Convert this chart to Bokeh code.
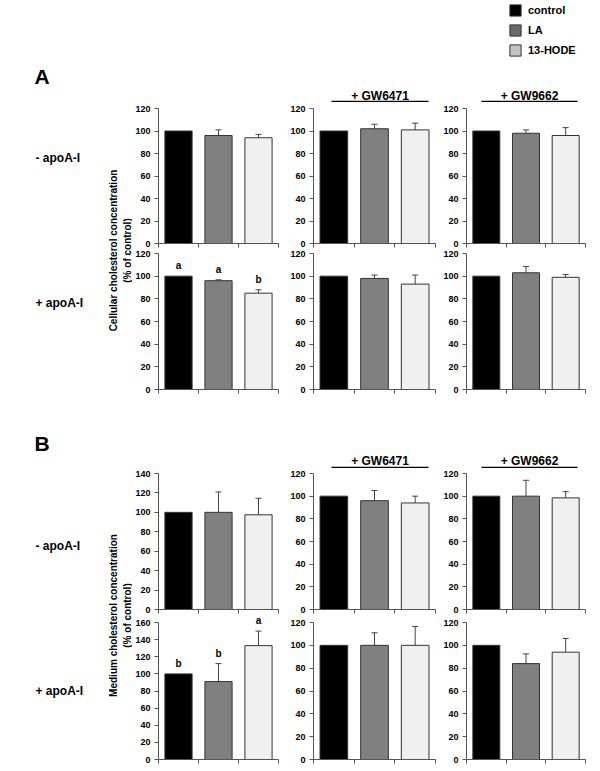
import math
from bokeh.plotting import figure
from bokeh.layouts import column, row
from bokeh.models import (Range1d, FixedTicker, ColumnDataSource, Whisker, TeeHead,
                          Legend, LegendItem, Label)
from bokeh.core.properties import value
from bokeh.embed import file_html
from bokeh.resources import INLINE

# ---------------- data ----------------
groups = ["control", "LA", "13-HODE"]
bar_colors = ["#000000", "#808080", "#f0f0f0"]
legend_colors = ["#000000", "#6a6a6a", "#c4c4c4"]

# Panel A: cellular cholesterol (% of control)
cell_minus_none = [100, 96, 94]
cell_minus_none_err = [0, 5, 3]
cell_minus_gw6471 = [100, 102, 101]
cell_minus_gw6471_err = [0, 4, 6]
cell_minus_gw9662 = [100, 98, 96]
cell_minus_gw9662_err = [0, 3, 7]
cell_plus_none = [100, 96, 85]
cell_plus_none_err = [0, 0.8, 3]
cell_plus_none_letters = ["a", "a", "b"]
cell_plus_gw6471 = [100, 98, 93]
cell_plus_gw6471_err = [0, 3, 8]
cell_plus_gw9662 = [100, 103, 99]
cell_plus_gw9662_err = [0, 5.5, 2.5]

# Panel B: medium cholesterol (% of control)
med_minus_none = [100, 100, 97.5]
med_minus_none_err = [0, 21, 17]
med_minus_gw6471 = [100, 96, 94]
med_minus_gw6471_err = [0, 9, 6]
med_minus_gw9662 = [100, 100, 98.5]
med_minus_gw9662_err = [0, 14, 5.5]
med_plus_none = [100, 91, 133]
med_plus_none_err = [0, 21, 17]
med_plus_none_letters = ["b", "b", "a"]
med_plus_gw6471 = [100, 100, 100]
med_plus_gw6471_err = [0, 11, 16.5]
med_plus_gw9662 = [100, 84, 94]
med_plus_gw9662_err = [0, 8.5, 12]

FONT = "Liberation Sans"
AXIS_COLOR = "#555555"

# column geometry: (width, border_left, border_right)
COLS = [(150, 26, 4), (158, 31, 5), (150, 23, 5)]


def panel(vals, errs, ymax, col, height, btop, bbot, letters=None):
    w, bl, br = COLS[col]
    # the top border is folded into the frame so that letters above the
    # top tick are not clipped; the axis itself is bounded to (0, ymax)
    frame_h = height - btop - bbot
    yend = ymax * (frame_h + btop) / frame_h
    p = figure(width=w, height=height, x_range=Range1d(0, 3), y_range=Range1d(0, yend),
               output_backend="svg", toolbar_location=None,
               min_border_left=bl, min_border_right=br,
               min_border_top=0, min_border_bottom=bbot)
    xs = [i + 0.5 for i in range(len(groups))]
    src = ColumnDataSource(dict(x=xs, top=vals, color=bar_colors, grp=groups))
    p.vbar(x="x", top="top", width=0.68, bottom=0, source=src,
           fill_color="color", line_color="#333333", line_width=1)
    ex = [x for x, e in zip(xs, errs) if e > 0]
    elo = [v for v, e in zip(vals, errs) if e > 0]
    ehi = [v + e for v, e in zip(vals, errs) if e > 0]
    esrc = ColumnDataSource(dict(x=ex, lower=elo, upper=ehi))
    p.add_layout(Whisker(source=esrc, base="x", lower="lower", upper="upper",
                         line_color="#444444", line_width=1, lower_head=None,
                         upper_head=TeeHead(size=6, line_color="#444444", line_width=1)))
    if letters:
        for x, v, e, t in zip(xs, vals, errs, letters):
            p.add_layout(Label(x=x, y=v + e, text=t, text_align="center",
                               text_baseline="bottom", y_offset=5,
                               text_font=FONT, text_font_style="bold",
                               text_font_size="10px", text_color="#000000"))
    p.grid.visible = False
    p.outline_line_color = None
    xa = p.xaxis[0]
    xa.ticker = FixedTicker(ticks=[0, 1, 2, 3])
    xa.major_label_text_font_size = "0px"
    xa.major_label_text_color = None
    xa.major_label_standoff = 0
    xa.major_tick_in = 0
    xa.major_tick_out = 4
    xa.minor_tick_line_color = None
    xa.axis_line_color = AXIS_COLOR
    xa.major_tick_line_color = AXIS_COLOR
    ya = p.yaxis[0]
    ya.bounds = (0, ymax)
    ya.ticker = FixedTicker(ticks=list(range(0, ymax + 1, 20)))
    ya.major_label_text_font = FONT
    ya.major_label_text_font_style = "bold"
    ya.major_label_text_font_size = "9px"
    ya.major_label_text_color = "#000000"
    ya.major_label_standoff = 4
    ya.major_tick_in = 0
    ya.major_tick_out = 4
    ya.minor_tick_line_color = None
    ya.axis_line_color = AXIS_COLOR
    ya.major_tick_line_color = AXIS_COLOR
    return p


def canvas(width, top, bottom, left=0):
    h = bottom - top
    p = figure(width=width, height=h, x_range=Range1d(left, left + width),
               y_range=Range1d(-bottom, -top), output_backend="svg",
               toolbar_location=None, min_border=0)
    p.axis.visible = False
    p.grid.visible = False
    p.outline_line_color = None
    return p


def ptext(p, x, y, s, size, align="left", angle=0.0):
    p.text(x=[x], y=[-y], text=[s], text_align=align, text_baseline="middle",
           angle=angle, text_font=value(FONT), text_font_style="bold",
           text_font_size=size, text_color="#000000")


def header(top, bottom, letter, letter_y, hdr_y, line_y, with_legend=False):
    p = canvas(590, top, bottom)
    ptext(p, 34, letter_y, letter, "21px")
    for (x0, x1, label) in [(331, 428, "+ GW6471"), (481, 577, "+ GW9662")]:
        ptext(p, (x0 + x1) / 2, hdr_y, label, "12px", align="center")
        p.segment(x0=[x0], y0=[-line_y], x1=[x1], y1=[-line_y],
                  line_color="#000000", line_width=1.5)
    if with_legend:
        items = []
        for g, c in zip(groups, legend_colors):
            r = p.rect(x=[-1000], y=[-1000], width=1, height=1, fill_color=c,
                       line_color="#333333")
            items.append(LegendItem(label=g, renderers=[r]))
        h = bottom - top
        lg = Legend(items=items, location=(508, h - 3 - 54), orientation="vertical",
                    glyph_width=14, glyph_height=14, label_height=14, spacing=6,
                    padding=0, margin=0, label_standoff=6,
                    label_text_font=FONT, label_text_font_style="bold",
                    label_text_font_size="11px", label_text_color="#000000",
                    border_line_alpha=0, background_fill_alpha=0)
        p.add_layout(lg, "center")
    return p


def side(top, bottom, minus_y, plus_y, ylabel, label_y):
    p = canvas(132, top, bottom)
    ptext(p, 35, minus_y, "- apoA-I", "12px")
    ptext(p, 35, plus_y, "+ apoA-I", "12px")
    ptext(p, 113, label_y, ylabel, "10px", align="center", angle=math.pi / 2)
    ptext(p, 127, label_y, "(% of control)", "10px", align="center", angle=math.pi / 2)
    return p


# ---------------- block A ----------------
hA = header(0, 102, "A", 76, 95, 101, with_legend=True)
sA = side(102, 395, 157, 302, "Cellular cholesterol concentration", 250)
a11 = panel(cell_minus_none, cell_minus_none_err, 120, 0, 146, 6, 5)
a12 = panel(cell_minus_gw6471, cell_minus_gw6471_err, 120, 1, 146, 6, 5)
a13 = panel(cell_minus_gw9662, cell_minus_gw9662_err, 120, 2, 146, 6, 5)
a21 = panel(cell_plus_none, cell_plus_none_err, 120, 0, 147, 5, 6, cell_plus_none_letters)
a22 = panel(cell_plus_gw6471, cell_plus_gw6471_err, 120, 1, 147, 5, 6)
a23 = panel(cell_plus_gw9662, cell_plus_gw9662_err, 120, 2, 147, 5, 6)

# ---------------- block B ----------------
hB = header(395, 468, "B", 443, 460, 467)
sB = side(468, 764, 545, 690, "Medium cholesterol concentration", 615)
b11 = panel(med_minus_none, med_minus_none_err, 140, 0, 147, 5, 6)
b12 = panel(med_minus_gw6471, med_minus_gw6471_err, 120, 1, 147, 5, 6)
b13 = panel(med_minus_gw9662, med_minus_gw9662_err, 120, 2, 147, 5, 6)
b21 = panel(med_plus_none, med_plus_none_err, 160, 0, 149, 7, 5, med_plus_none_letters)
b22 = panel(med_plus_gw6471, med_plus_gw6471_err, 120, 1, 149, 7, 5)
b23 = panel(med_plus_gw9662, med_plus_gw9662_err, 120, 2, 149, 7, 5)

layout = column(
    hA,
    row(sA, column(a11, a21), column(a12, a22), column(a13, a23)),
    hB,
    row(sB, column(b11, b21), column(b12, b22), column(b13, b23)),
)

open("out.html", "w").write(file_html(layout, INLINE))
